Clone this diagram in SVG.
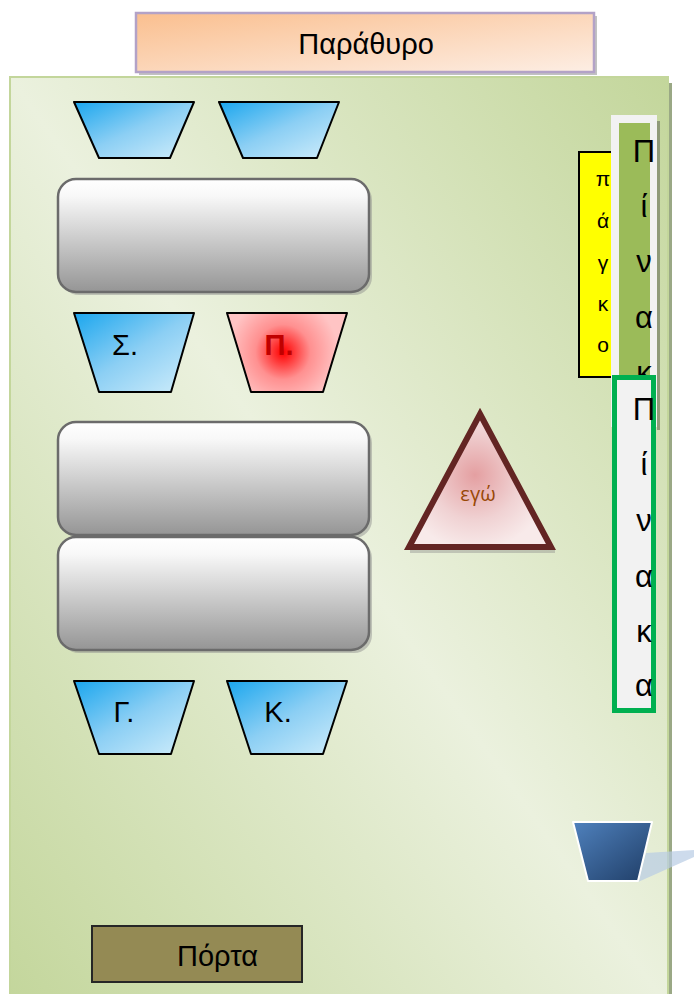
<svg xmlns="http://www.w3.org/2000/svg" width="694" height="994" viewBox="0 0 694 994">
  <defs>
    <linearGradient id="roomFill" x1="1" y1="0" x2="0" y2="1">
      <stop offset="0" stop-color="#c3d69b"/>
      <stop offset="0.5" stop-color="#ebf1de"/>
      <stop offset="1" stop-color="#c3d69b"/>
    </linearGradient>
    <linearGradient id="windowFill" x1="0" y1="0" x2="1" y2="1">
      <stop offset="0" stop-color="#fabf8f"/>
      <stop offset="1" stop-color="#fdeee4"/>
    </linearGradient>
    <linearGradient id="benchFill" x1="0" y1="0" x2="0" y2="1">
      <stop offset="0" stop-color="#ffffff"/>
      <stop offset="0.15" stop-color="#f8f8f8"/>
      <stop offset="1" stop-color="#959595"/>
    </linearGradient>
    <linearGradient id="chairFill" x1="0" y1="0" x2="1" y2="1">
      <stop offset="0" stop-color="#1aa6ee"/>
      <stop offset="0.5" stop-color="#8ccff4"/>
      <stop offset="1" stop-color="#d2eefb"/>
    </linearGradient>
    <radialGradient id="redChair" cx="283" cy="352" r="55" gradientUnits="userSpaceOnUse">
      <stop offset="0" stop-color="#ff0000"/>
      <stop offset="0.5" stop-color="#ff9090"/>
      <stop offset="1" stop-color="#ffc4c4"/>
    </radialGradient>
    <radialGradient id="meFill" cx="475" cy="475" r="75" gradientUnits="userSpaceOnUse">
      <stop offset="0" stop-color="#e49fa1"/>
      <stop offset="0.6" stop-color="#f0d2d3"/>
      <stop offset="1" stop-color="#f8eaea"/>
    </radialGradient>
    <linearGradient id="teacherFill" x1="0" y1="0" x2="1" y2="1">
      <stop offset="0" stop-color="#4f81bd"/>
      <stop offset="1" stop-color="#1f3d66"/>
    </linearGradient>
    <style>
      .chair { fill: url(#chairFill); stroke: #000; stroke-width: 2; stroke-linejoin: round; }
      .bench { fill: url(#benchFill); stroke: #6b6b6b; stroke-width: 2.5; }
      .shadow { fill: #8a8a8a; opacity: 0.45; }
      .lbl { font-family: "Liberation Sans", Arial, sans-serif; fill: #000; }
      .col { font-family: "Liberation Sans", Arial, sans-serif; text-anchor: middle; }
    </style>
  </defs>

  <!-- classroom floor -->
  <g id="room">
    <rect x="669" y="83" width="3" height="911" fill="#9aa885"/>
    <rect x="10" y="77" width="658" height="930" fill="url(#roomFill)" stroke="#c3d69b" stroke-width="2"/>
  </g>

  <!-- window -->
  <g id="window">
    <rect x="139" y="16" width="458" height="59" fill="#9a9a9a" opacity="0.6"/>
    <rect x="136" y="13" width="458" height="59" fill="url(#windowFill)" stroke="#b3a2c7" stroke-width="2.5"/>
    <text class="lbl" x="366" y="54" font-size="29" text-anchor="middle">Παράθυρο</text>
  </g>

  <!-- first row chairs -->
  <g id="chair-r1-a"><polygon class="chair" points="74,102 194,102 170,158 99,158"/></g>
  <g id="chair-r1-b"><polygon class="chair" points="219,102 339,102 317,158 243,158"/></g>

  <!-- desks -->
  <g id="desk-1">
    <rect class="shadow" x="61" y="182" width="311" height="113" rx="18"/>
    <rect class="bench" x="58" y="179" width="311" height="113" rx="18"/>
  </g>

  <g id="chair-s">
    <polygon class="chair" points="74,313 194,313 171,392 99,392"/>
    <text class="lbl" x="125" y="355" font-size="29" text-anchor="middle">Σ.</text>
  </g>
  <g id="chair-p">
    <polygon points="227,313 347,313 323,392 251,392" fill="url(#redChair)" stroke="#000" stroke-width="2" stroke-linejoin="round"/>
    <text x="279" y="355" font-size="29" font-weight="bold" text-anchor="middle" fill="#c00000" font-family="Liberation Sans, Arial, sans-serif">Π.</text>
  </g>

  <g id="desk-2">
    <rect class="shadow" x="61" y="425" width="311" height="113" rx="18"/>
    <rect class="bench" x="58" y="422" width="311" height="113" rx="18"/>
  </g>
  <g id="desk-3">
    <rect class="shadow" x="61" y="540" width="311" height="113" rx="18"/>
    <rect class="bench" x="58" y="537" width="311" height="113" rx="18"/>
  </g>

  <g id="chair-g">
    <polygon class="chair" points="74,681 194,681 171,754 99,754"/>
    <text class="lbl" x="124" y="722" font-size="29" text-anchor="middle">Γ.</text>
  </g>
  <g id="chair-k">
    <polygon class="chair" points="227,681 347,681 323,754 251,754"/>
    <text class="lbl" x="278" y="722" font-size="29" text-anchor="middle">Κ.</text>
  </g>

  <!-- me -->
  <g id="me">
    <rect x="410" y="549" width="145" height="4" fill="#8a8a8a" opacity="0.4"/>
    <polygon points="480,414 551,547 409,547" fill="url(#meFill)" stroke="#632523" stroke-width="6" stroke-linejoin="miter"/>
    <text x="478" y="501" font-size="20" text-anchor="middle" fill="#984806" font-family="Open Sans, Liberation Sans, sans-serif">εγώ</text>
  </g>

  <!-- cupboard -->
  <g id="cupboard">
    <rect x="579" y="152" width="36" height="225" fill="#ffff00" stroke="#000" stroke-width="2"/>
    <g class="col" font-size="21" fill="#000">
      <text x="603" y="186">π</text>
      <text x="603" y="228">ά</text>
      <text x="603" y="270">γ</text>
      <text x="603" y="311">κ</text>
      <text x="603" y="352">ο</text>
    </g>
  </g>

  <!-- boards -->
  <g id="board-1">
    <rect x="657" y="121" width="3" height="309" fill="#8f9a78"/>
    <rect x="611" y="115" width="46" height="312" fill="#f2f2f2"/>
    <rect x="619" y="123" width="31" height="298" fill="#9bbb59"/>
    <g class="col" font-size="31" fill="#000">
      <text x="644" y="162">Π</text>
      <text x="644" y="217">ί</text>
      <text x="644" y="272">ν</text>
      <text x="644" y="328">α</text>
      <text x="644" y="383">κ</text>
    </g>
  </g>
  <g id="board-2">
    <rect x="614.5" y="377.5" width="39" height="333" fill="#f2f2f2" stroke="#00b050" stroke-width="5"/>
    <g class="col" font-size="31" fill="#000">
      <text x="644" y="420">Π</text>
      <text x="644" y="475">ί</text>
      <text x="644" y="531">ν</text>
      <text x="644" y="587">α</text>
      <text x="644" y="642">κ</text>
      <text x="644" y="696">α</text>
    </g>
  </g>

  <!-- teacher desk with light beam -->
  <g id="teacher">
    <polygon points="646,853 694,850 694,857 638,882" fill="#b8cce4" opacity="0.7"/>
    <polygon points="573,822 652,822 638,881 588,881" fill="url(#teacherFill)" stroke="#ffffff" stroke-width="2" stroke-linejoin="round"/>
  </g>

  <!-- door -->
  <g id="door">
    <rect x="92" y="926" width="210" height="56" fill="#948a54" stroke="#262626" stroke-width="2"/>
    <text class="lbl" x="177" y="966" font-size="29">Πόρτα</text>
  </g>
</svg>
